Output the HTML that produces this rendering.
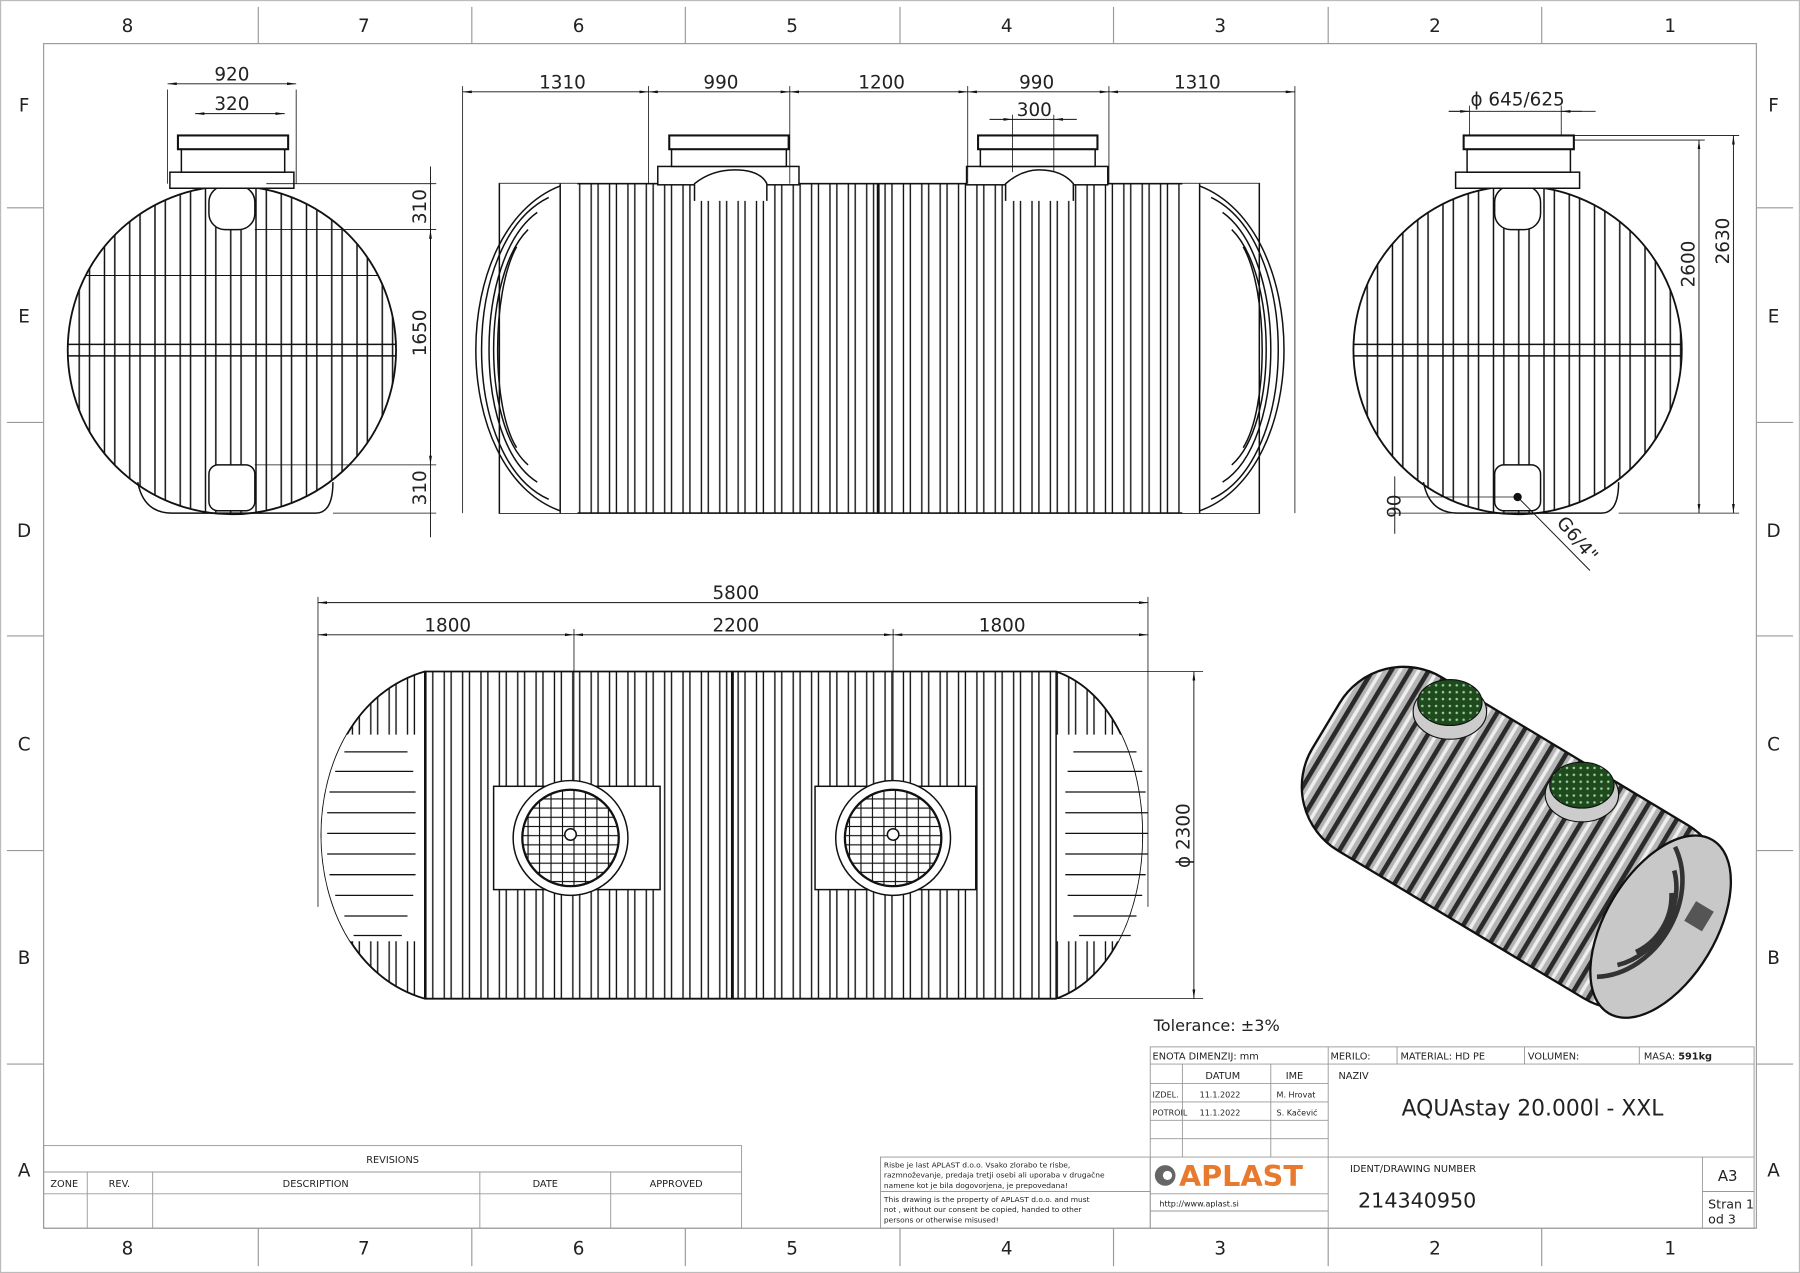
<!DOCTYPE html>
<html><head><meta charset="utf-8"><style>
html,body{margin:0;padding:0;background:#fff}
svg{display:block}
text{font-family:"DejaVu Sans","Liberation Sans",sans-serif;fill:#222}
</style></head><body>
<svg width="1800" height="1273" viewBox="0 0 1568 1109" preserveAspectRatio="none" xmlns="http://www.w3.org/2000/svg">
<defs>
<pattern id="vr" width="22" height="10" patternUnits="userSpaceOnUse"><line x1="3" y1="0" x2="3" y2="10" stroke="#111" stroke-width="1.3"/><line x1="12" y1="0" x2="12" y2="10" stroke="#111" stroke-width="1.3"/></pattern>
<pattern id="vr2" width="16" height="10" patternUnits="userSpaceOnUse"><line x1="3" y1="0" x2="3" y2="10" stroke="#111" stroke-width="1.2"/><line x1="9" y1="0" x2="9" y2="10" stroke="#111" stroke-width="1.2"/></pattern>
<pattern id="rib3" width="14" height="10" patternUnits="userSpaceOnUse"><rect width="14" height="10" fill="#b5b5b5"/><rect x="0" width="4" height="10" fill="#2a2a2a"/><rect x="7" width="3" height="10" fill="#efefef"/></pattern>
<pattern id="grn" width="6" height="6" patternUnits="userSpaceOnUse"><rect width="6" height="6" fill="#1e4a1e"/><circle cx="3" cy="3" r="1.1" fill="#9ad29a"/></pattern>
<pattern id="brick" width="10" height="8" patternUnits="userSpaceOnUse"><rect width="10" height="8" fill="#fff" stroke="#111" stroke-width="1"/></pattern>
<marker id="a" viewBox="0 0 10 6" refX="10" refY="3" markerWidth="10" markerHeight="6" orient="auto-start-reverse"><path d="M0,1.5 L10,3 L0,4.5z" fill="#111"/></marker>
<clipPath id="cl"><circle cx="202" cy="305" r="143"/></clipPath>
<clipPath id="cr"><circle cx="1322" cy="305" r="143"/></clipPath>
<clipPath id="cf"><path d="M435,160 H1097 V447 H435z"/></clipPath>
<clipPath id="cp"><path d="M370,585 H920 C1020,620 1020,835 920,870 H370 C250,835 250,620 370,585z"/></clipPath>
</defs>

<rect x="0.5" y="0.5" width="1567" height="1108" fill="none" stroke="#bbb"/>
<rect x="38" y="38" width="1492" height="1032" fill="none" stroke="#999" stroke-width="1"/>
<g stroke="#999">
<line x1="225" y1="6" x2="225" y2="38"/><line x1="411" y1="6" x2="411" y2="38"/><line x1="597" y1="6" x2="597" y2="38"/><line x1="784" y1="6" x2="784" y2="38"/><line x1="970" y1="6" x2="970" y2="38"/><line x1="1157" y1="6" x2="1157" y2="38"/><line x1="1343" y1="6" x2="1343" y2="38"/>
<line x1="225" y1="1070" x2="225" y2="1103"/><line x1="411" y1="1070" x2="411" y2="1103"/><line x1="597" y1="1070" x2="597" y2="1103"/><line x1="784" y1="1070" x2="784" y2="1103"/><line x1="970" y1="1070" x2="970" y2="1103"/><line x1="1157" y1="1070" x2="1157" y2="1103"/><line x1="1343" y1="1070" x2="1343" y2="1103"/>
<line x1="6" y1="181" x2="38" y2="181"/><line x1="6" y1="368" x2="38" y2="368"/><line x1="6" y1="554" x2="38" y2="554"/><line x1="6" y1="741" x2="38" y2="741"/><line x1="6" y1="927" x2="38" y2="927"/>
<line x1="1530" y1="181" x2="1562" y2="181"/><line x1="1530" y1="368" x2="1562" y2="368"/><line x1="1530" y1="554" x2="1562" y2="554"/><line x1="1530" y1="741" x2="1562" y2="741"/><line x1="1530" y1="927" x2="1562" y2="927"/>
</g>
<g font-size="16" text-anchor="middle">
<text x="111" y="28">8</text><text x="317" y="28">7</text><text x="504" y="28">6</text><text x="690" y="28">5</text><text x="877" y="28">4</text><text x="1063" y="28">3</text><text x="1250" y="28">2</text><text x="1455" y="28">1</text>
<text x="111" y="1093">8</text><text x="317" y="1093">7</text><text x="504" y="1093">6</text><text x="690" y="1093">5</text><text x="877" y="1093">4</text><text x="1063" y="1093">3</text><text x="1250" y="1093">2</text><text x="1455" y="1093">1</text>
<text x="21" y="97">F</text><text x="21" y="281">E</text><text x="21" y="468">D</text><text x="21" y="654">C</text><text x="21" y="840">B</text><text x="21" y="1025">A</text>
<text x="1545" y="97">F</text><text x="1545" y="281">E</text><text x="1545" y="468">D</text><text x="1545" y="654">C</text><text x="1545" y="840">B</text><text x="1545" y="1025">A</text>
</g>

<!-- LEFT END VIEW -->
<g stroke="#111" fill="none" stroke-width="1.3">
<path d="M120,420 Q125,447 150,447 H275 Q290,447 290,420"/>
<rect x="59" y="162" width="286" height="285" fill="url(#vr)" clip-path="url(#cl)" stroke="none"/>
<circle cx="202" cy="305" r="143" fill="none" stroke-width="1.6"/>
<line x1="59" y1="300" x2="345" y2="300"/><line x1="59" y1="310" x2="345" y2="310"/>
<line x1="59" y1="240" x2="345" y2="240" stroke-width="0.8" clip-path="url(#cl)"/>
<rect x="182" y="162" width="40" height="38" rx="14" fill="#fff"/>
<rect x="182" y="405" width="40" height="40" rx="8" fill="#fff"/>
<rect x="148" y="150" width="108" height="14" fill="#fff"/>
<rect x="158" y="130" width="90" height="20" fill="#fff"/>
<rect x="155" y="118" width="96" height="12" fill="#fff" stroke-width="1.8"/>
<line x1="146" y1="78" x2="146" y2="160" stroke-width="0.7"/><line x1="258" y1="78" x2="258" y2="160" stroke-width="0.7"/>
<line x1="146" y1="73" x2="258" y2="73" stroke-width="0.8" marker-start="url(#a)" marker-end="url(#a)"/>
<line x1="170" y1="99" x2="210" y2="99" stroke-width="0.8" marker-start="url(#a)"/>
<line x1="210" y1="99" x2="248" y2="99" stroke-width="0.8" marker-end="url(#a)"/>
<line x1="232" y1="160" x2="380" y2="160" stroke-width="0.7"/><line x1="222" y1="200" x2="380" y2="200" stroke-width="0.7"/><line x1="222" y1="405" x2="380" y2="405" stroke-width="0.7"/><line x1="290" y1="447" x2="380" y2="447" stroke-width="0.7"/>
<line x1="375" y1="145" x2="375" y2="468" stroke-width="0.8"/>
<line x1="375" y1="200" x2="375" y2="405" stroke-width="0.8" marker-start="url(#a)" marker-end="url(#a)"/>
</g>
<g font-size="16" text-anchor="middle">
<text x="202" y="70">920</text><text x="202" y="96">320</text>
<text transform="translate(371,180) rotate(-90)">310</text>
<text transform="translate(371,290) rotate(-90)">1650</text>
<text transform="translate(371,425) rotate(-90)">310</text>
</g>

<!-- FRONT VIEW -->
<g stroke="#111" fill="none" stroke-width="1.3">
<rect x="435" y="160" width="662" height="287" fill="url(#vr2)" clip-path="url(#cf)" stroke="none"/>
<rect x="435" y="160" width="662" height="287" fill="none" stroke-width="1.4"/>
<rect x="403" y="160" width="100" height="287" fill="#fff" stroke="none"/>
<rect x="1030" y="160" width="100" height="287" fill="#fff" stroke="none"/>
<line x1="435" y1="160" x2="435" y2="447"/><line x1="1097" y1="160" x2="1097" y2="447"/>
<path d="M488,162 C390,200 390,410 488,445"/><path d="M478,172 C400,210 400,400 478,435"/><path d="M468,185 C412,225 412,385 468,420"/><path d="M460,200 C420,240 420,370 460,405"/><path d="M450,215 C428,255 428,355 450,390"/>
<path d="M1045,162 C1143,200 1143,410 1045,445"/><path d="M1055,172 C1133,210 1133,400 1055,435"/><path d="M1065,185 C1121,225 1121,385 1065,420"/><path d="M1073,200 C1113,240 1113,370 1073,405"/><path d="M1083,215 C1105,255 1105,355 1083,390"/>
<line x1="488" y1="160" x2="488" y2="447"/><line x1="1045" y1="160" x2="1045" y2="447"/>
<line x1="765" y1="160" x2="765" y2="447" stroke-width="2.5"/>
<rect x="573" y="145" width="123" height="16" fill="#fff"/><rect x="585" y="130" width="100" height="15" fill="#fff"/><rect x="583" y="118" width="104" height="12" fill="#fff" stroke-width="1.8"/>
<rect x="842" y="145" width="123" height="16" fill="#fff"/><rect x="854" y="130" width="100" height="15" fill="#fff"/><rect x="852" y="118" width="104" height="12" fill="#fff" stroke-width="1.8"/>
<path d="M605,175 V160 Q620,148 640,148 Q662,148 668,160 V175" fill="#fff"/>
<path d="M876,175 V160 Q890,148 905,148 Q925,148 935,160 V175" fill="#fff"/>
<g stroke-width="0.7"><line x1="403" y1="75" x2="403" y2="447"/><line x1="565" y1="75" x2="565" y2="160"/><line x1="688" y1="75" x2="688" y2="160"/><line x1="843" y1="75" x2="843" y2="160"/><line x1="966" y1="75" x2="966" y2="160"/><line x1="1128" y1="75" x2="1128" y2="447"/><line x1="882" y1="100" x2="882" y2="150"/><line x1="918" y1="100" x2="918" y2="150"/></g>
<g stroke-width="0.8"><line x1="403" y1="80" x2="565" y2="80" marker-start="url(#a)" marker-end="url(#a)"/><line x1="565" y1="80" x2="688" y2="80" marker-start="url(#a)" marker-end="url(#a)"/><line x1="688" y1="80" x2="843" y2="80" marker-start="url(#a)" marker-end="url(#a)"/><line x1="843" y1="80" x2="966" y2="80" marker-start="url(#a)" marker-end="url(#a)"/><line x1="966" y1="80" x2="1128" y2="80" marker-start="url(#a)" marker-end="url(#a)"/>
<line x1="862" y1="104" x2="882" y2="104" marker-end="url(#a)"/><line x1="938" y1="104" x2="918" y2="104" marker-end="url(#a)"/><line x1="882" y1="104" x2="918" y2="104"/></g>
</g>
<g font-size="16" text-anchor="middle">
<text x="490" y="77">1310</text><text x="628" y="77">990</text><text x="768" y="77">1200</text><text x="903" y="77">990</text><text x="1043" y="77">1310</text><text x="901" y="101">300</text>
</g>

<!-- RIGHT END VIEW -->
<g stroke="#111" fill="none" stroke-width="1.3">
<path d="M1240,420 Q1245,447 1270,447 H1395 Q1410,447 1410,420"/>
<rect x="1179" y="162" width="286" height="285" fill="url(#vr)" clip-path="url(#cr)" stroke="none"/>
<circle cx="1322" cy="305" r="143" stroke-width="1.6"/>
<line x1="1179" y1="300" x2="1465" y2="300"/><line x1="1179" y1="310" x2="1465" y2="310"/>
<rect x="1302" y="162" width="40" height="38" rx="14" fill="#fff"/>
<rect x="1302" y="405" width="40" height="40" rx="8" fill="#fff"/>
<circle cx="1322" cy="433" r="3" fill="#111"/>
<rect x="1268" y="150" width="108" height="14" fill="#fff"/><rect x="1278" y="130" width="90" height="20" fill="#fff"/><rect x="1275" y="118" width="96" height="12" fill="#fff" stroke-width="1.8"/>
<g stroke-width="0.7"><line x1="1280" y1="92" x2="1280" y2="118"/><line x1="1360" y1="92" x2="1360" y2="118"/><line x1="1371" y1="122" x2="1485" y2="122"/><line x1="1371" y1="118" x2="1515" y2="118"/><line x1="1410" y1="447" x2="1515" y2="447"/><line x1="1210" y1="433" x2="1320" y2="433"/><line x1="1210" y1="447" x2="1270" y2="447"/></g>
<g stroke-width="0.8"><line x1="1262" y1="97" x2="1390" y2="97"/><line x1="1262" y1="97" x2="1280" y2="97" marker-end="url(#a)"/><line x1="1378" y1="97" x2="1360" y2="97" marker-end="url(#a)"/>
<line x1="1480" y1="122" x2="1480" y2="447" marker-start="url(#a)" marker-end="url(#a)"/>
<line x1="1510" y1="118" x2="1510" y2="447" marker-start="url(#a)" marker-end="url(#a)"/>
<line x1="1215" y1="415" x2="1215" y2="465"/>
<line x1="1322" y1="433" x2="1385" y2="497"/></g>
</g>
<g font-size="16" text-anchor="middle">
<text x="1322" y="92">ϕ 645/625</text>
<text transform="translate(1476,230) rotate(-90)">2600</text>
<text transform="translate(1506,210) rotate(-90)">2630</text>
<text transform="translate(1220,441) rotate(-90)">90</text>
<text transform="translate(1370,473) rotate(50)">G6/4"</text>
</g>

<!-- PLAN VIEW -->
<g stroke="#111" fill="none" stroke-width="1.3">
<rect x="277" y="585" width="723" height="285" fill="url(#vr2)" clip-path="url(#cp)" stroke="none"/>
<path d="M370,585 H920 C1020,620 1020,835 920,870 H370 C250,835 250,620 370,585z" stroke-width="1.6"/>
<rect x="280" y="640" width="90" height="180" fill="#fff" stroke="none" clip-path="url(#cp)"/>
<rect x="920" y="640" width="85" height="180" fill="#fff" stroke="none" clip-path="url(#cp)"/>
<g stroke-width="1.1">
<path d="M300,655 H355 M292,672 H360 M287,690 H362 M285,708 H362 M285,726 H362 M285,744 H362 M287,762 H362 M292,780 H360 M300,798 H355 M308,815 H350"/>
<path d="M935,655 H990 M930,672 H995 M928,690 H998 M928,708 H1000 M928,726 H1000 M928,744 H1000 M928,762 H998 M930,780 H995 M935,798 H990 M940,815 H985"/>
</g>
<line x1="370" y1="585" x2="370" y2="870"/><line x1="920" y1="585" x2="920" y2="870"/>
<line x1="638" y1="585" x2="638" y2="870" stroke-width="2.5"/>
<rect x="430" y="685" width="145" height="90" fill="#fff"/>
<rect x="710" y="685" width="140" height="90" fill="#fff"/>
<circle cx="497" cy="730" r="50" fill="#fff"/>
<circle cx="497" cy="730" r="42" fill="url(#brick)" stroke-width="2"/>
<circle cx="778" cy="730" r="50" fill="#fff"/>
<circle cx="778" cy="730" r="42" fill="url(#brick)" stroke-width="2"/>
<circle cx="497" cy="727" r="5" fill="#fff"/><circle cx="778" cy="727" r="5" fill="#fff"/>
<g stroke-width="0.7"><line x1="277" y1="520" x2="277" y2="790"/><line x1="1000" y1="520" x2="1000" y2="790"/><line x1="500" y1="548" x2="500" y2="680"/><line x1="778" y1="548" x2="778" y2="680"/><line x1="920" y1="585" x2="1048" y2="585"/><line x1="920" y1="870" x2="1048" y2="870"/></g>
<g stroke-width="0.8"><line x1="277" y1="525" x2="1000" y2="525" marker-start="url(#a)" marker-end="url(#a)"/><line x1="277" y1="553" x2="500" y2="553" marker-start="url(#a)" marker-end="url(#a)"/><line x1="500" y1="553" x2="778" y2="553" marker-start="url(#a)" marker-end="url(#a)"/><line x1="778" y1="553" x2="1000" y2="553" marker-start="url(#a)" marker-end="url(#a)"/><line x1="1040" y1="585" x2="1040" y2="870" marker-start="url(#a)" marker-end="url(#a)"/></g>
</g>
<g font-size="16" text-anchor="middle">
<text x="641" y="522">5800</text><text x="390" y="550">1800</text><text x="641" y="550">2200</text><text x="873" y="550">1800</text>
<text transform="translate(1036,728) rotate(-90)">ϕ 2300</text>
</g>

<!-- ISO VIEW -->
<g transform="translate(1318,730) rotate(31)">
<rect x="-190" y="-88" width="380" height="176" rx="65" fill="url(#rib3)" stroke="#111" stroke-width="2"/>
<ellipse cx="150" cy="0" rx="48" ry="88" fill="#c8c8c8" stroke="#111" stroke-width="2"/>
<path d="M125,-66 C168,-38 168,38 125,66 M135,-48 C160,-24 160,24 135,48 M143,-30 C155,-12 155,12 143,30" stroke="#333" stroke-width="4" fill="none"/>
<rect x="165" y="-35" width="18" height="20" fill="#555"/>
</g>
<ellipse cx="1263" cy="620" rx="32" ry="24" fill="#ccc" stroke="#111"/>
<ellipse cx="1263" cy="612" rx="28" ry="20" fill="url(#grn)" stroke="#111"/>
<ellipse cx="1378" cy="692" rx="32" ry="24" fill="#ccc" stroke="#111"/>
<ellipse cx="1378" cy="684" rx="28" ry="20" fill="url(#grn)" stroke="#111"/>

<!-- TITLE BLOCK -->
<text x="1005" y="898" font-size="14">Tolerance: ±3%</text>
<g stroke="#999" fill="none" stroke-width="0.8">
<rect x="1002" y="912" width="526" height="158"/>
<line x1="1002" y1="927" x2="1528" y2="927"/>
<line x1="1157" y1="912" x2="1157" y2="1070"/><line x1="1217" y1="912" x2="1217" y2="927"/><line x1="1328" y1="912" x2="1328" y2="927"/><line x1="1428" y1="912" x2="1428" y2="927"/>
<line x1="1030" y1="927" x2="1030" y2="1008"/><line x1="1107" y1="927" x2="1107" y2="1008"/>
<line x1="1002" y1="944" x2="1157" y2="944"/><line x1="1002" y1="960" x2="1157" y2="960"/><line x1="1002" y1="976" x2="1157" y2="976"/><line x1="1002" y1="992" x2="1157" y2="992"/>
<line x1="1002" y1="1008" x2="1528" y2="1008"/><line x1="1483" y1="1008" x2="1483" y2="1070"/><line x1="1483" y1="1038" x2="1528" y2="1038"/>
<line x1="1002" y1="1040" x2="1157" y2="1040"/><line x1="1002" y1="1055" x2="1157" y2="1055"/>
<rect x="767" y="1008" width="235" height="62"/><line x1="767" y1="1038" x2="1002" y2="1038"/>
<rect x="38" y="998" width="608" height="72"/><line x1="38" y1="1021" x2="646" y2="1021"/><line x1="38" y1="1040" x2="646" y2="1040"/>
<line x1="76" y1="1021" x2="76" y2="1070"/><line x1="133" y1="1021" x2="133" y2="1070"/><line x1="418" y1="1021" x2="418" y2="1070"/><line x1="532" y1="1021" x2="532" y2="1070"/>
</g>
<g font-size="8.5" fill="#333">
<text x="1004" y="923">ENOTA DIMENZIJ:  mm</text><text x="1159" y="923">MERILO:</text><text x="1220" y="923">MATERIAL:  HD PE</text><text x="1331" y="923">VOLUMEN:</text><text x="1432" y="923">MASA:  <tspan font-weight="bold">591kg</tspan></text>
<text x="1050" y="940">DATUM</text><text x="1120" y="940">IME</text><text x="1166" y="940">NAZIV</text>
<text x="1004" y="956" font-size="7">IZDEL.</text><text x="1045" y="956" font-size="7">11.1.2022</text><text x="1112" y="956" font-size="7">M. Hrovat</text>
<text x="1004" y="972" font-size="7">POTROIL</text><text x="1045" y="972" font-size="7">11.1.2022</text><text x="1112" y="972" font-size="7">S. Kačević</text>
<text x="1176" y="1021">IDENT/DRAWING NUMBER</text>
<text x="1010" y="1051" font-size="7" fill="#446">http://www.aplast.si</text>
<text x="56" y="1034" text-anchor="middle">ZONE</text><text x="104" y="1034" text-anchor="middle">REV.</text><text x="275" y="1034" text-anchor="middle">DESCRIPTION</text><text x="475" y="1034" text-anchor="middle">DATE</text><text x="589" y="1034" text-anchor="middle">APPROVED</text>
<text x="342" y="1013" text-anchor="middle">REVISIONS</text>
<g font-size="6.5"><text x="770" y="1017">Risbe je last APLAST d.o.o. Vsako zlorabo te risbe,</text><text x="770" y="1026">razmnoževanje, predaja tretji osebi ali uporaba v drugačne</text><text x="770" y="1035">namene kot je bila dogovorjena, je prepovedana!</text><text x="770" y="1047">This drawing is the property of APLAST d.o.o. and must</text><text x="770" y="1056">not , without our consent be copied, handed to other</text><text x="770" y="1065">persons or otherwise misused!</text></g>
</g>
<text x="1335" y="972" font-size="19" text-anchor="middle">AQUAstay 20.000l - XXL</text>
<text x="1183" y="1052" font-size="18">214340950</text>
<text x="1505" y="1029" font-size="13" text-anchor="middle">A3</text>
<text x="1488" y="1053" font-size="11">Stran 1</text><text x="1488" y="1066" font-size="11">od 3</text>
<circle cx="1015" cy="1024" r="9" fill="#666"/><circle cx="1017" cy="1024" r="4" fill="#fff"/>
<text x="1027" y="1033" font-size="25" font-weight="bold" style="fill:#e87a2e">APLAST</text>
</svg>
</body></html>
